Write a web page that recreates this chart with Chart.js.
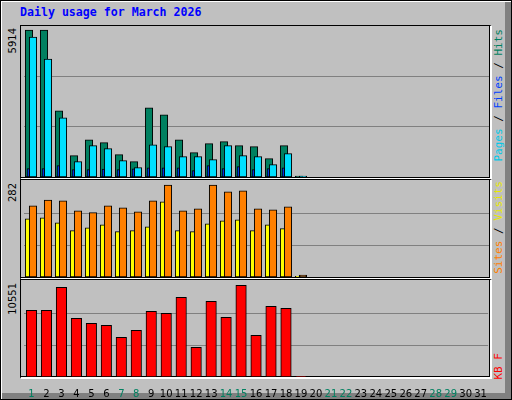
<!DOCTYPE html>
<html><head><meta charset="utf-8">
<script src="https://cdn.jsdelivr.net/npm/chart.js@4"></script>
<style>
html,body{margin:0;padding:0;background:#c0c0c0;}
#wrap{position:relative;width:512px;height:400px;overflow:hidden;background:#c0c0c0;}
.abs{position:absolute;}
.frame{position:absolute;box-sizing:border-box;border-top:1px solid #000;border-left:1px solid #000;border-right:2px solid #fff;border-bottom:2px solid #fff;box-shadow:inset -1px -1px 0 #000;}
.vt{position:absolute;writing-mode:vertical-rl;transform:rotate(180deg);white-space:nowrap;}
canvas{display:block;}
</style></head>
<body><div id="wrap">
<div class="abs" style="left:0;top:0;width:512px;height:400px;box-sizing:border-box;border:1px solid #000;"></div>
<div class="abs" style="left:1px;top:1px;width:510px;height:1px;background:#fff"></div>
<div class="abs" style="left:1px;top:1px;width:1px;height:398px;background:#fff"></div>
<div class="abs" style="left:505px;top:2px;width:6px;height:397px;background:#808080"></div>
<div class="abs" style="left:2px;top:393px;width:509px;height:6px;background:#808080"></div>
<div class="abs" style="left:20px;top:5px;font:bold 11.6px 'DejaVu Sans Mono';color:#0000ff">Daily usage for March 2026</div>
<div class="frame" style="left:20px;top:25px;width:472px;height:155px"></div>
<div class="frame" style="left:20px;top:179px;width:472px;height:101px"></div>
<div class="frame" style="left:20px;top:279px;width:472px;height:100px"></div>
<div class="abs" style="left:21px;top:26px;width:469px;height:151px"><canvas id="c1"></canvas></div>
<div class="abs" style="left:21px;top:181px;width:469px;height:96px"><canvas id="c2"></canvas></div>
<div class="abs" style="left:21px;top:281px;width:469px;height:116px"><canvas id="c3"></canvas></div>
<div class="vt" id="t1" style="left:7px;top:28px;font:10px 'DejaVu Sans'"></div>
<div class="vt" id="t2" style="left:7px;top:183px;font:10px 'DejaVu Sans'"></div>
<div class="vt" id="t3" style="left:7px;top:283px;font:10px 'DejaVu Sans'"></div>
<div class="vt" style="left:492px;top:29px;font:11px 'DejaVu Sans Mono'"><span style="color:#00c8e8">Pages</span> / <span style="color:#0040ff">Files</span> / <span style="color:#008060">Hits</span></div>
<div class="vt" style="left:492px;top:181px;font:11px 'DejaVu Sans Mono'"><span style="color:#ff8000">Sites</span> / <span style="color:#e8e800">Visits</span></div>
<div class="vt" style="left:492px;top:353px;font:11px 'DejaVu Sans Mono';color:#ff0000">KB F</div>
</div>
<script>
const days = Array.from({length:31},(_,i)=>String(i+1));
const weekendDays = [1,7,8,14,15,21,22,28,29];
const hits  = [5914,5914,2663,858,1500,1380,898,618,2783,2502,1500,978,1340,1420,1259,1219,738,1259,40];
const files = [5630,4748,2382,618,1259,1139,658,377,1299,1219,818,818,698,1259,858,818,497,938,40];
const pages = [337,337,457,300,300,320,300,330,370,370,370,257,457,337,417,300,337,370,0];
const visits= [178,181,166,142,151,160,139,142,154,230,142,139,163,172,175,142,160,148,2];
const sites = [218,236,233,203,197,218,212,200,233,282,203,209,282,261,264,209,206,215,6];
const kbytes= [7675,7675,10321,6754,6179,5949,4568,5373,7559,7329,9170,3417,8710,6869,10551,4798,8135,7905,50];
const axisMax = [5914,282,10551];

document.getElementById('t1').textContent=axisMax[0];
document.getElementById('t2').textContent=axisMax[1];
document.getElementById('t3').textContent=axisMax[2];

const shiftPlugin={id:'shift',afterDatasetsUpdate(chart){
  chart.data.datasets.forEach((ds,i)=>{
    const m=chart.getDatasetMeta(i);
    m.data.forEach(el=>{el.x+= (ds.xShift||0);});
  });
}};

function mk(id,datasets,maxV,factor,showX){
  const top=maxV*factor;
  return new Chart(document.getElementById(id),{
    type:'bar',
    data:{labels:days,datasets:datasets.map(d=>Object.assign({grouped:false,borderColor:'#000',borderWidth:1,borderSkipped:false},d))},
    options:{responsive:true,maintainAspectRatio:false,animation:false,
      layout:{padding:{left:3,right:1,top:0,bottom:0}},
      plugins:{legend:{display:false},tooltip:{enabled:false}},
      events:[],
      scales:{
        x:{display:showX,offset:true,grid:{display:false},border:{display:false},
           ticks:{display:showX,autoSkip:false,maxRotation:0,padding:3,font:{family:'DejaVu Sans',size:10},
             color:(c)=>weekendDays.includes(c.index+1)?'#008060':'#000'},
           afterFit(s){s.height=showX?20:0;}},
        y:{min:0,max:top,ticks:{display:false},border:{display:false},
           grid:{color:'#808080',drawTicks:false,lineWidth:1},
           afterBuildTicks(s){s.ticks=[{value:top/3},{value:2*top/3}];},
           afterFit(s){s.width=0;}}
      }},
    plugins:[shiftPlugin]
  });
}
mk('c1',[
  {data:hits,backgroundColor:'#008060',barThickness:7.5,xShift:-2.5,order:3},
  {data:files,backgroundColor:'#00e0ff',barThickness:7.5,xShift:1.5,order:2},
  {data:pages,backgroundColor:'#0040ff',barThickness:2.5,xShift:-3.2,order:1}
],axisMax[0],1.027,false);
mk('c2',[
  {data:visits,backgroundColor:'#ffff00',barThickness:4.5,xShift:-4,order:2},
  {data:sites,backgroundColor:'#ff8000',barThickness:7.5,xShift:1.5,order:1}
],axisMax[1],1.043,false);
mk('c3',[
  {data:kbytes,backgroundColor:'#ff0000',barThickness:10.5,xShift:0}
],axisMax[2],1.047,true);
</script>
</body></html>
